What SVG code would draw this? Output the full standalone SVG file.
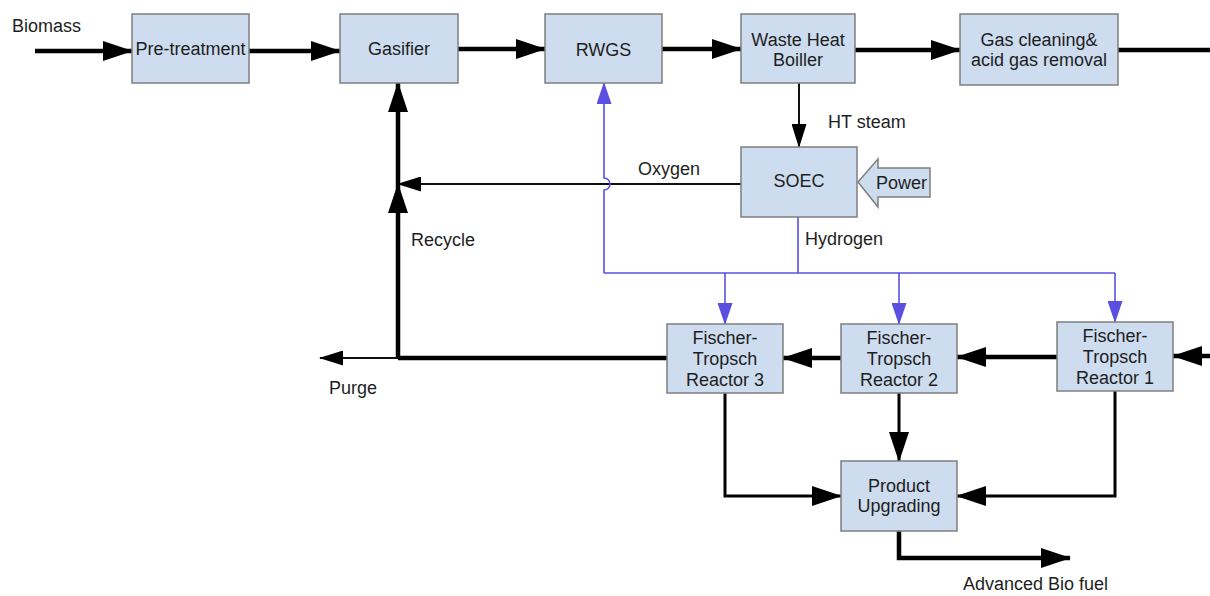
<svg xmlns="http://www.w3.org/2000/svg" width="1210" height="596" viewBox="0 0 1210 596">
  <style>
    .box { fill: #cddcee; stroke: #7f7f7f; stroke-width: 1.5; }
    .lbl { font-family: "Liberation Sans", Arial, sans-serif; font-size: 18px; fill: #1e1e1e; }
    .mid { text-anchor: middle; }
    .thick { fill: none; stroke: #000; stroke-width: 4.5; }
    .med { fill: none; stroke: #000; stroke-width: 3; }
    .thin { fill: none; stroke: #111; stroke-width: 2; }
    .h2 { fill: none; stroke: #5a4fe0; stroke-width: 1.6; }
  </style>
  <defs>
    <marker id="bigHead" markerUnits="userSpaceOnUse" markerWidth="30" markerHeight="20" refX="29" refY="10" orient="auto">
      <path d="M0,0 L30,10 L0,20 Z" fill="#000"/>
    </marker>
    <marker id="smallHead" markerUnits="userSpaceOnUse" markerWidth="24" markerHeight="15" refX="23" refY="7.5" orient="auto">
      <path d="M0,0 L24,7.5 L0,15 Z" fill="#000"/>
    </marker>
    <marker id="blueHead" markerUnits="userSpaceOnUse" markerWidth="22" markerHeight="15" refX="21" refY="7.5" orient="auto">
      <path d="M0,0 L22,7.5 L0,15 Z" fill="#5a4fe0"/>
    </marker>
  </defs>

  <!-- process flow connectors -->
  <g id="connectors">
    <!-- main syngas train -->
    <path class="thick" d="M35,51 H132" marker-end="url(#bigHead)"/>
    <path class="thick" d="M249,51 H340" marker-end="url(#bigHead)"/>
    <path class="thick" d="M458,49 H545" marker-end="url(#bigHead)"/>
    <path class="thick" d="M662,49 H741" marker-end="url(#bigHead)"/>
    <path class="thick" d="M855,50 H960" marker-end="url(#bigHead)"/>
    <path class="thick" d="M1118,50 H1210"/>

    <!-- steam to electrolyser, oxygen back to gasifier -->
    <path class="thin" d="M799,83 V147" marker-end="url(#smallHead)"/>
    <path class="thin" d="M741,184 H398" marker-end="url(#smallHead)"/>

    <!-- recycle loop -->
    <path class="thick" d="M398,358 V184" marker-end="url(#bigHead)"/>
    <path class="thick" d="M398,184 V83" marker-end="url(#bigHead)"/>
    <path class="thick" d="M667,358 H398"/>
    <path class="thin" d="M398,358 H320" marker-end="url(#smallHead)"/>

    <!-- Fischer-Tropsch cascade -->
    <path class="thick" d="M1210,356 H1173" marker-end="url(#bigHead)"/>
    <path class="thick" d="M1057,357 H957" marker-end="url(#bigHead)"/>
    <path class="thick" d="M841,358 H783" marker-end="url(#bigHead)"/>

    <!-- products to upgrading -->
    <path class="med" d="M725,393 V496 H841" marker-end="url(#bigHead)"/>
    <path class="med" d="M899,393 V461" marker-end="url(#bigHead)"/>
    <path class="med" d="M1115,391 V496 H957" marker-end="url(#bigHead)"/>
    <path class="thick" d="M899,531 V558 H1070" marker-end="url(#bigHead)"/>

    <!-- hydrogen distribution -->
    <path class="h2" d="M798,217 V273"/>
    <path class="h2" d="M604,273 H1115"/>
    <path class="h2" d="M604,273 V190 A6,6 0 0 0 604,178 V83" marker-end="url(#blueHead)"/>
    <path class="h2" d="M725,273 V324" marker-end="url(#blueHead)"/>
    <path class="h2" d="M899,273 V324" marker-end="url(#blueHead)"/>
    <path class="h2" d="M1115,273 V322" marker-end="url(#blueHead)"/>
  </g>

  <!-- process units -->
  <g id="pretreatment">
    <rect class="box" x="132" y="14" width="117" height="69"/>
    <text class="lbl mid" x="190.5" y="55">Pre-treatment</text>
  </g>
  <g id="gasifier">
    <rect class="box" x="340" y="14" width="118" height="69"/>
    <text class="lbl mid" x="399" y="55">Gasifier</text>
  </g>
  <g id="rwgs">
    <rect class="box" x="545" y="14" width="117" height="69"/>
    <text class="lbl mid" x="603.5" y="56">RWGS</text>
  </g>
  <g id="waste-heat-boiler">
    <rect class="box" x="741" y="14" width="114" height="69"/>
    <text class="lbl mid" x="798" y="46">Waste Heat</text>
    <text class="lbl mid" x="798" y="66">Boiller</text>
  </g>
  <g id="gas-cleaning">
    <rect class="box" x="960" y="14" width="158" height="71"/>
    <text class="lbl mid" x="1039" y="46">Gas cleaning&amp;</text>
    <text class="lbl mid" x="1039" y="66">acid gas removal</text>
  </g>
  <g id="soec">
    <rect class="box" x="741" y="147" width="116" height="70"/>
    <text class="lbl mid" x="799" y="187">SOEC</text>
  </g>
  <g id="power">
    <path class="box" d="M858,182 L878,159 V168 H930 V197 H878 V207 Z"/>
    <text class="lbl" x="876" y="189">Power</text>
  </g>
  <g id="ft-reactor-3">
    <rect class="box" x="667" y="324" width="116" height="69"/>
    <text class="lbl mid" x="725" y="344">Fischer-</text>
    <text class="lbl mid" x="725" y="365">Tropsch</text>
    <text class="lbl mid" x="725" y="386">Reactor 3</text>
  </g>
  <g id="ft-reactor-2">
    <rect class="box" x="841" y="324" width="116" height="69"/>
    <text class="lbl mid" x="899" y="344">Fischer-</text>
    <text class="lbl mid" x="899" y="365">Tropsch</text>
    <text class="lbl mid" x="899" y="386">Reactor 2</text>
  </g>
  <g id="ft-reactor-1">
    <rect class="box" x="1057" y="322" width="116" height="69"/>
    <text class="lbl mid" x="1115" y="342">Fischer-</text>
    <text class="lbl mid" x="1115" y="363">Tropsch</text>
    <text class="lbl mid" x="1115" y="384">Reactor 1</text>
  </g>
  <g id="product-upgrading">
    <rect class="box" x="841" y="461" width="116" height="70"/>
    <text class="lbl mid" x="899" y="492">Product</text>
    <text class="lbl mid" x="899" y="512">Upgrading</text>
  </g>

  <!-- stream labels -->
  <g id="stream-labels">
    <text class="lbl" x="12" y="32">Biomass</text>
    <text class="lbl" x="828" y="128">HT steam</text>
    <text class="lbl" x="638" y="175">Oxygen</text>
    <text class="lbl" x="411" y="246">Recycle</text>
    <text class="lbl" x="805" y="245">Hydrogen</text>
    <text class="lbl" x="329" y="394">Purge</text>
    <text class="lbl" x="963" y="590">Advanced Bio fuel</text>
  </g>
</svg>
